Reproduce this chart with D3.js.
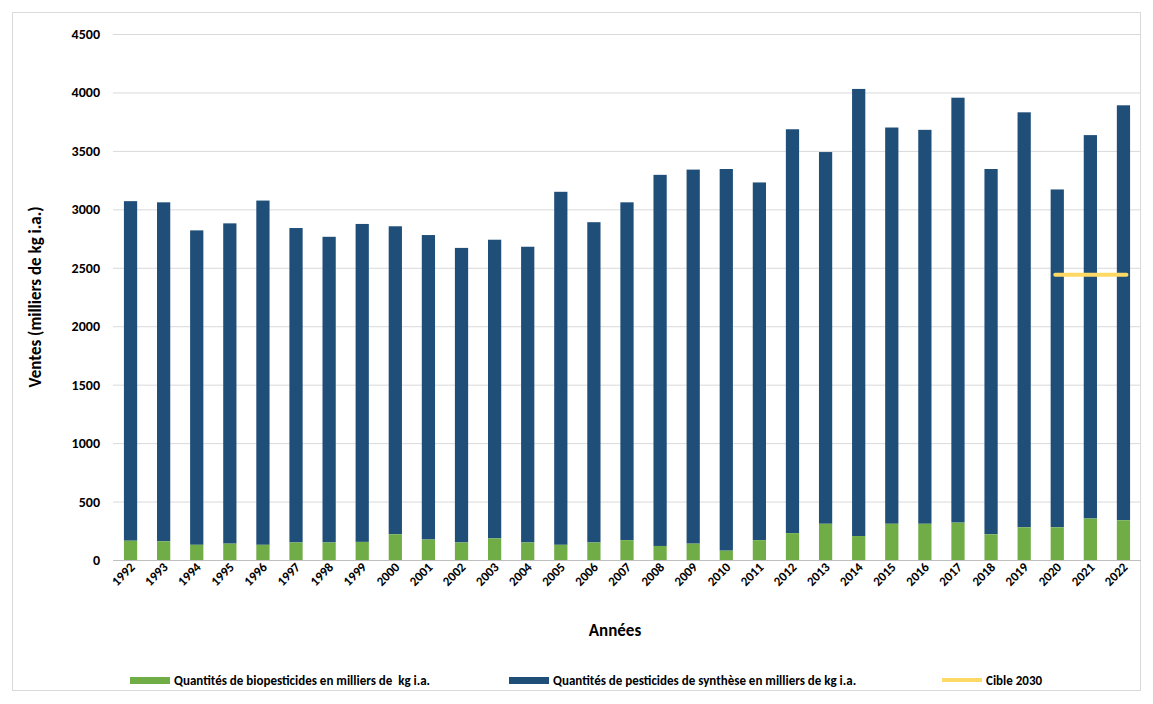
<!DOCTYPE html>
<meta charset="utf-8">
<style>
body { margin: 0; background: #fff; font-family: Calibri, Carlito, "Liberation Sans", sans-serif; }
text { font-family: Calibri, Carlito, "Liberation Sans", sans-serif; }
</style>
<body>
<script src="https://cdnjs.cloudflare.com/ajax/libs/d3/7.8.5/d3.min.js"></script>
<script>

var years = d3.range(1992, 2023).map(String);
var totals = [3070, 3060, 2820, 2880, 3075, 2840, 2765, 2875, 2855, 2780, 2670, 2740, 2680, 3150, 2890, 3060,
              3295, 3340, 3345, 3230, 3685, 3490, 4030, 3700, 3680, 3955, 3345, 3830, 3170, 3635, 3890];
var bio = [165, 160, 130, 140, 130, 150, 150, 155, 220, 175, 150, 185, 150, 130, 150, 170,
           120, 140, 80, 170, 230, 310, 205, 310, 310, 320, 220, 280, 280, 355, 340];
var target = 2440, targetYears = ["2020", "2022"];
var yTicks = d3.range(0, 4501, 500);

var W = 1153, H = 704;
var svg = d3.select("body").append("svg").attr("width", W).attr("height", H);

svg.append("rect").attr("x", 12.5).attr("y", 12.5).attr("width", 1128).attr("height", 678)
    .attr("fill", "none").attr("stroke", "#d9d9d9");

var x = d3.scaleBand().domain(years).range([113, 1141]).paddingInner(0.6).paddingOuter(0.33);
var y = d3.scaleLinear().domain([0, 4500]).range([560, 34]);

svg.selectAll(".grid").data(yTicks).enter().append("line")
    .attr("x1", 113).attr("x2", 1141)
    .attr("y1", function(d) { return y(d) + 0.5; }).attr("y2", function(d) { return y(d) + 0.5; })
    .attr("stroke", "#d9d9d9");

svg.selectAll(".yl").data(yTicks).enter().append("text")
    .attr("x", 100).attr("y", function(d) { return y(d) + 5; })
    .attr("text-anchor", "end").attr("font-size", 14).attr("font-weight", "bold").text(function(d) { return d; });

svg.selectAll(".syn").data(years).enter().append("rect")
    .attr("x", function(d) { return x(d); }).attr("width", x.bandwidth())
    .attr("y", function(d, i) { return y(totals[i]); })
    .attr("height", function(d, i) { return y(bio[i]) - y(totals[i]); })
    .attr("fill", "#1f4e79");

svg.selectAll(".bio").data(years).enter().append("rect")
    .attr("x", function(d) { return x(d); }).attr("width", x.bandwidth())
    .attr("y", function(d, i) { return y(bio[i]); })
    .attr("height", function(d, i) { return y(0) - y(bio[i]); })
    .attr("fill", "#70ad47");

svg.append("line")
    .attr("x1", x(targetYears[0]) + x.bandwidth() / 2 - 2).attr("x2", x(targetYears[1]) + x.bandwidth() / 2 + 3)
    .attr("y1", y(target)).attr("y2", y(target))
    .attr("stroke", "#ffd966").attr("stroke-width", 4).attr("stroke-linecap", "round");

svg.append("line").attr("x1", 113).attr("x2", 1141).attr("y1", 560.5).attr("y2", 560.5).attr("stroke", "#bfbfbf");

svg.selectAll(".xl").data(years).enter().append("text")
    .attr("transform", function(d) { return "translate(" + (x(d) + x.bandwidth() / 2 + 5) + ",568) rotate(-45)"; })
    .attr("text-anchor", "end").attr("font-size", 13).attr("font-weight", "bold").text(function(d) { return d; });

svg.append("text").attr("x", 615).attr("y", 636).attr("text-anchor", "middle")
    .attr("font-size", 17).attr("font-weight", "bold").text("Années");
svg.append("text").attr("transform", "translate(41,297) rotate(-90)").attr("text-anchor", "middle")
    .attr("font-size", 17).attr("font-weight", "bold").text("Ventes (milliers de kg i.a.)");

var legend = [
  {label: "Quantités de biopesticides en milliers de  kg i.a.", color: "#70ad47", x: 130, line: false},
  {label: "Quantités de pesticides de synthèse en milliers de kg i.a.", color: "#1f4e79", x: 509, line: false},
  {label: "Cible 2030", color: "#ffd966", x: 942, line: true}
];
legend.forEach(function(l) {
  if (l.line) svg.append("line").attr("x1", l.x).attr("x2", l.x + 40).attr("y1", 680).attr("y2", 680)
      .attr("stroke", l.color).attr("stroke-width", 4);
  else svg.append("rect").attr("x", l.x).attr("y", 677).attr("width", 40).attr("height", 7).attr("fill", l.color);
  svg.append("text").attr("x", l.x + 44).attr("y", 685).attr("font-size", 13).attr("font-weight", "bold")
      .attr("xml:space", "preserve").style("white-space", "pre").text(l.label);
});

</script>
